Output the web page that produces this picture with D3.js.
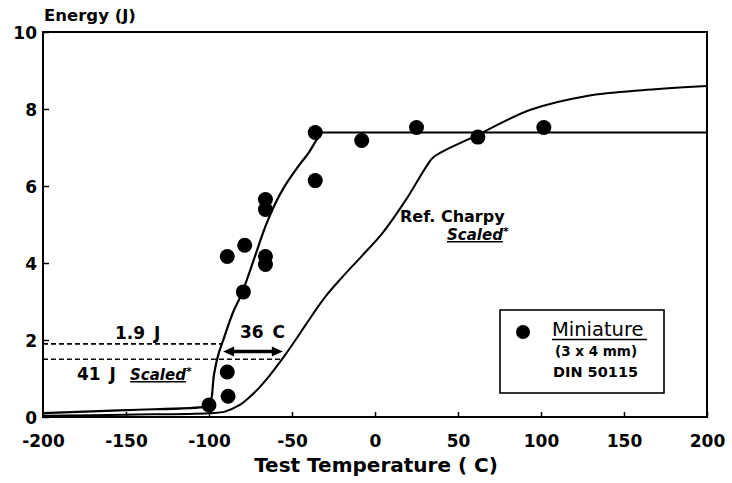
<!DOCTYPE html>
<html>
<head>
<meta charset="utf-8">
<script src="https://cdn.jsdelivr.net/npm/d3@7/dist/d3.min.js"></script>
<style>
  html, body { margin: 0; padding: 0; background: #fff; }
  svg { display: block; }
  text { font-family: "DejaVu Sans", sans-serif; fill: #000; }
</style>
</head>
<body>
<svg id="chart" width="732" height="483"></svg>
<script>
// Miniature (3 x 4 mm) specimen results
const miniTemp   = [-100, -88.5, -89, -89, -78.5, -79.3, -66, -66, -66, -66, -36, -36, -8, 25, 62, 101.7];
const miniEnergy = [0.31, 0.54, 1.17, 4.17, 4.46, 3.25, 5.65, 5.39, 4.17, 3.96, 7.39, 6.14, 7.18, 7.52, 7.27, 7.52];

// Fitted transition curve through the miniature data (last point closes the upper shelf)
const fitTemp   = [-200, -150, -102, -99.5, -97, -94.5, -91, -85.5, -80.3, -73.3, -66, -60, -55, -50, -45, -40, -35.5, -32, 200];
const fitEnergy = [0.1, 0.18, 0.27, 0.32, 1.1, 1.6, 2.05, 2.72, 3.2, 4.05, 4.95, 5.55, 5.95, 6.28, 6.58, 6.86, 7.18, 7.39, 7.39];

// Reference Charpy curve, scaled
const refTemp   = [-200, -150, -100, -90.4, -82, -76, -70, -64, -54, -46, -42, -30, -20, -8, 4, 18, 31.6, 35.5, 62, 93.7, 127.7, 163.8, 200];
const refEnergy = [0.03, 0.06, 0.1, 0.14, 0.3, 0.5, 0.75, 1.05, 1.62, 2.12, 2.38, 3.12, 3.62, 4.18, 4.75, 5.6, 6.55, 6.76, 7.33, 7.98, 8.34, 8.5, 8.6];

// Axis ticks
const xTicks = [-200, -150, -100, -50, 0, 50, 100, 150, 200];
const yTicks = [0, 2, 4, 6, 8, 10];

// Transition-temperature annotation
const levelMini = 1.9;          // J, miniature criterion
const levelRef = 1.5;           // J, 41 J scaled
const shiftStart = -91.5;       // C
const shiftSize = 36;           // C
const shiftLevel = 1.7;         // J

const svg = d3.select("#chart");
const plotLeft = 43, plotRight = 707, plotTop = 32, plotBottom = 417;

const x = d3.scaleLinear().domain([-200, 200]).range([plotLeft, plotRight]);
const y = d3.scaleLinear().domain([0, 10]).range([plotBottom, plotTop]);

// Temperature at which a curve first reaches a given energy
function crossing(temps, energies, e) {
  for (let i = 1; i < temps.length; i++) {
    if (energies[i - 1] <= e && energies[i] >= e) {
      return d3.scaleLinear().domain([energies[i - 1], energies[i]]).range([temps[i - 1], temps[i]])(e);
    }
  }
  return temps[temps.length - 1];
}

// Frame
svg.append("rect")
  .attr("x", plotLeft).attr("y", plotTop)
  .attr("width", plotRight - plotLeft).attr("height", plotBottom - plotTop)
  .attr("fill", "none").attr("stroke", "#000").attr("stroke-width", 2);

// X axis
const gx = svg.append("g")
  .attr("transform", `translate(0,${plotBottom})`)
  .call(d3.axisBottom(x).tickValues(xTicks).tickSizeInner(-5).tickSizeOuter(0).tickFormat(d => String(d)));
gx.select(".domain").remove();
gx.selectAll(".tick line").attr("stroke-width", 1.5);
gx.selectAll(".tick text")
  .attr("dy", null).attr("y", 30)
  .style("font-family", "'DejaVu Sans', sans-serif")
  .style("font-size", "17px").style("font-weight", "bold");

// Y axis
const gy = svg.append("g")
  .attr("transform", `translate(${plotLeft},0)`)
  .call(d3.axisLeft(y).tickValues(yTicks).tickSizeInner(-6).tickSizeOuter(0).tickPadding(6).tickFormat(d => String(d)));
gy.select(".domain").remove();
gy.selectAll(".tick line").attr("stroke-width", 1.5);
gy.selectAll(".tick text")
  .attr("dy", "0.36em")
  .style("font-family", "'DejaVu Sans', sans-serif")
  .style("font-size", "17px").style("font-weight", "bold");

// Axis titles
svg.append("text")
  .attr("x", 44).attr("y", 21)
  .style("font-size", "16.5px").style("font-weight", "bold")
  .text("Energy (J)");
svg.append("text")
  .attr("x", 376).attr("y", 472)
  .attr("text-anchor", "middle")
  .style("font-size", "20px").style("font-weight", "bold")
  .text("Test Temperature ( C)");

// Curves
const smooth = d3.line().x(d => x(d[0])).y(d => y(d[1])).curve(d3.curveCatmullRom.alpha(0.5));
const straight = d3.line().x(d => x(d[0])).y(d => y(d[1]));
const refPts = refTemp.map((t, i) => [t, refEnergy[i]]);
const fitPts = fitTemp.map((t, i) => [t, fitEnergy[i]]);
svg.append("path")
  .datum(refPts)
  .attr("d", smooth).attr("fill", "none").attr("stroke", "#000").attr("stroke-width", 2);
// rising branch of the fit, then the flat upper shelf
svg.append("path")
  .datum(fitPts.slice(0, -1))
  .attr("d", smooth).attr("fill", "none").attr("stroke", "#000").attr("stroke-width", 2.2);
svg.append("path")
  .datum(fitPts.slice(-2))
  .attr("d", straight).attr("fill", "none").attr("stroke", "#000").attr("stroke-width", 2.2);

// Dashed criterion levels
svg.append("line")
  .attr("x1", x(-200)).attr("x2", x(crossing(fitTemp, fitEnergy, levelMini)))
  .attr("y1", y(levelMini)).attr("y2", y(levelMini))
  .attr("stroke", "#000").attr("stroke-width", 1.6).attr("stroke-dasharray", "5,3");
svg.append("line")
  .attr("x1", x(-200)).attr("x2", x(crossing(refTemp, refEnergy, levelRef)))
  .attr("y1", y(levelRef)).attr("y2", y(levelRef))
  .attr("stroke", "#000").attr("stroke-width", 1.6).attr("stroke-dasharray", "5,3");

// Double-headed shift arrow
const ax1 = x(shiftStart), ax2 = x(shiftStart + shiftSize), ay = y(shiftLevel);
const head = 11, half = 5;
svg.append("line")
  .attr("x1", ax1 + head - 1).attr("x2", ax2 - head + 1)
  .attr("y1", ay).attr("y2", ay)
  .attr("stroke", "#000").attr("stroke-width", 3.5);
svg.append("path")
  .attr("d", `M${ax1},${ay}L${ax1 + head},${ay - half}L${ax1 + head},${ay + half}Z`)
  .attr("fill", "#000");
svg.append("path")
  .attr("d", `M${ax2},${ay}L${ax2 - head},${ay - half}L${ax2 - head},${ay + half}Z`)
  .attr("fill", "#000");

// Data points
svg.append("g").selectAll("circle")
  .data(miniTemp.map((t, i) => [t, miniEnergy[i]]))
  .join("circle")
  .attr("cx", d => x(d[0])).attr("cy", d => y(d[1]))
  .attr("r", 7.5).attr("fill", "#000");

// Annotation text
function label(xp, yp, txt, size) {
  return svg.append("text").attr("x", xp).attr("y", yp)
    .style("font-size", size + "px").style("font-weight", "bold")
    .style("word-spacing", "3px").text(txt);
}
label(115, 339, "1.9 J", 17);
label(240, 338, "36 C", 17);
label(77, 380, "41 J", 17);

function scaled(xp, yp) {
  const t = svg.append("text").attr("x", xp).attr("y", yp)
    .style("font-size", "15px").style("font-weight", "bold").style("font-style", "italic");
  t.append("tspan").text("Scaled").style("text-decoration", "underline");
  t.append("tspan").text("*").attr("dy", -5).style("font-size", "11px").style("font-style", "normal");
}
scaled(130, 380);
label(400, 222, "Ref. Charpy", 16).style("word-spacing", "0px");
scaled(447, 240);

// Legend
svg.append("rect")
  .attr("x", 500).attr("y", 310).attr("width", 164).attr("height", 83)
  .attr("fill", "#fff").attr("stroke", "#000").attr("stroke-width", 1.6);
svg.append("circle").attr("cx", 523).attr("cy", 332).attr("r", 7).attr("fill", "#000");
svg.append("text").attr("x", 552).attr("y", 336)
  .style("font-size", "19.5px").text("Miniature");
svg.append("line").attr("x1", 552).attr("x2", 647).attr("y1", 339.5).attr("y2", 339.5)
  .attr("stroke", "#000").attr("stroke-width", 1.5);
svg.append("text").attr("x", 555).attr("y", 356)
  .style("font-size", "13.5px").style("font-weight", "bold").text("(3 x 4 mm)");
svg.append("text").attr("x", 553).attr("y", 377)
  .style("font-size", "14.5px").style("font-weight", "bold").text("DIN 50115");
</script>
</body>
</html>
